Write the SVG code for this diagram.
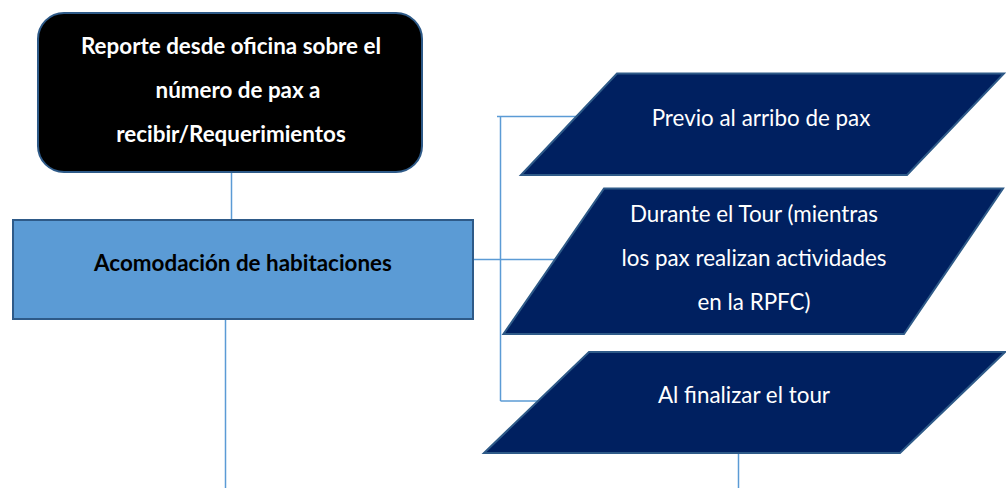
<svg xmlns="http://www.w3.org/2000/svg" width="1006" height="488" viewBox="0 0 1006 488">
<style>
.conn{stroke:#5b9bd5;stroke-width:1.5;fill:none}
.para{fill:#002060;stroke:#2e5a88;stroke-width:2}
.t{font-family:Lato,"Liberation Sans",sans-serif;font-size:22.4px;text-anchor:middle}
.w{fill:#ffffff}
.b{font-weight:bold}
</style>
<rect width="1006" height="488" fill="#ffffff"/>
<g id="connectors">
<line class="conn" x1="231.5" y1="172" x2="231.5" y2="220"/>
<line class="conn" x1="225.5" y1="320" x2="225.5" y2="488"/>
<line class="conn" x1="473" y1="259.5" x2="560" y2="259.5"/>
<line class="conn" x1="500.5" y1="116" x2="500.5" y2="401"/>
<line class="conn" x1="497" y1="116.5" x2="580" y2="116.5"/>
<line class="conn" x1="500.5" y1="401" x2="540" y2="401"/>
<line class="conn" x1="738.5" y1="453" x2="738.5" y2="488"/>
</g>
<g id="node-reporte">
<rect x="38" y="13" width="384" height="159" rx="26" ry="26" fill="#000000" stroke="#2e5a88" stroke-width="2"/>
<text class="t w b" x="231" y="54">Reporte desde oficina sobre el</text>
<text class="t w b" x="238" y="98">número de pax a</text>
<text class="t w b" x="231" y="142">recibir/Requerimientos</text>
</g>
<g id="node-acomodacion">
<rect x="13" y="220" width="460" height="99" fill="#5b9bd5" stroke="#2e5a88" stroke-width="2"/>
<text class="t b" x="243" y="271" fill="#000000">Acomodación de habitaciones</text>
</g>
<g id="node-previo">
<polygon class="para" points="617,73.5 1004,73.5 907,175 521,175"/>
<text class="t w" x="761" y="126">Previo al arribo de pax</text>
</g>
<g id="node-durante">
<polygon class="para" points="604,188.5 1003,188.5 904,334 503.5,334"/>
<text class="t w" x="754" y="222">Durante el Tour (mientras</text>
<text class="t w" x="754" y="266">los pax realizan actividades</text>
<text class="t w" x="754" y="310">en la RPFC)</text>
</g>
<g id="node-final">
<polygon class="para" points="589,352 1005,352 900,453 484,453"/>
<text class="t w" x="744" y="403">Al finalizar el tour</text>
</g>
</svg>
